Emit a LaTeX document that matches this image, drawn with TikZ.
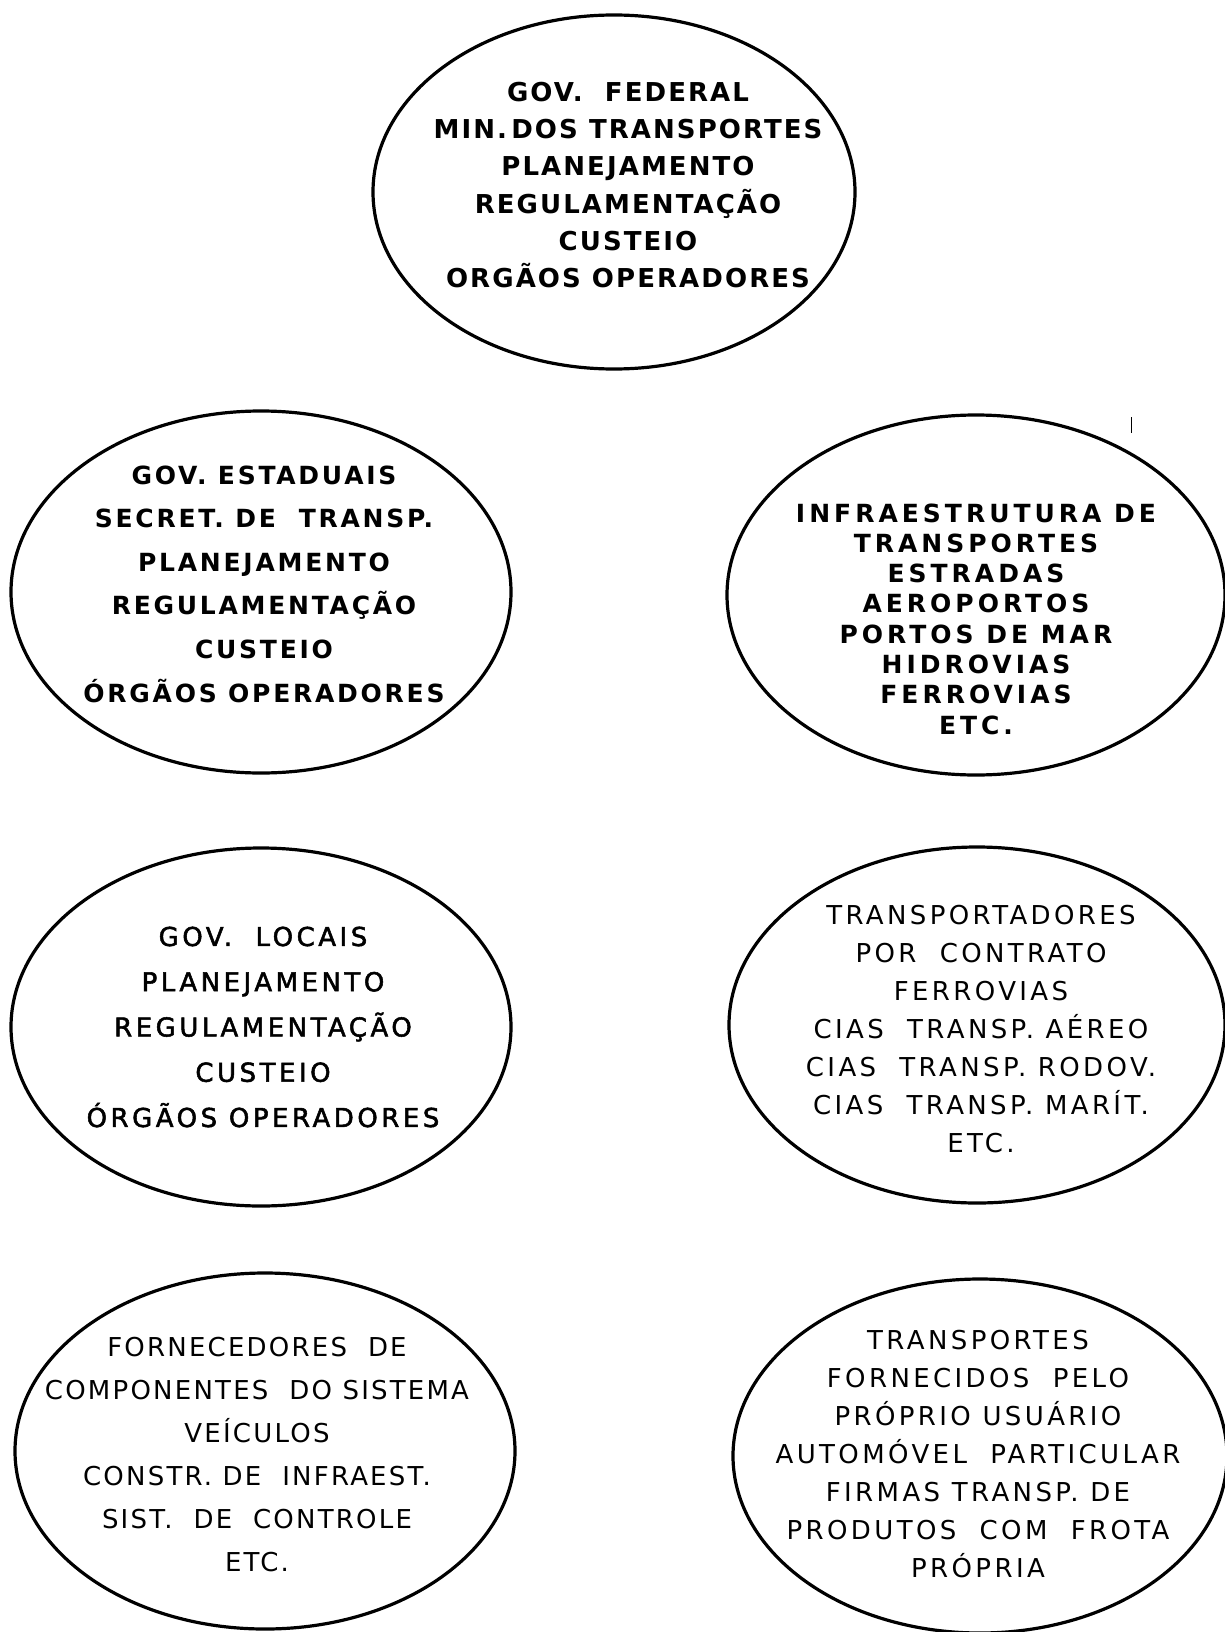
\documentclass[tikz,border=0pt]{standalone}
\usepackage{fontspec}
\usetikzlibrary{shapes.geometric}
\newfontfamily\lett{DejaVu Sans}
\begin{document}
\begin{tikzpicture}[x=1pt,y=-1pt,
  ell/.style={draw, line width=3.2pt, ellipse, inner sep=0pt},
  txt/.style={align=center, inner sep=0pt, text=black}]
\useasboundingbox (0,0) rectangle (1224,1632);
\fill[white] (0,0) rectangle (1224,1632);
% ellipses
\node[ell, minimum width=482pt, minimum height=354pt] (e1) at (614,192) {};
\node[ell, minimum width=500pt, minimum height=362pt] (e2) at (261,592) {};
\node[ell, minimum width=498pt, minimum height=360pt] (e3) at (976,595) {};
\node[ell, minimum width=500pt, minimum height=358pt] (e4) at (261,1027) {};
\node[ell, minimum width=496pt, minimum height=356pt] (e5) at (977,1025) {};
\node[ell, minimum width=500pt, minimum height=356pt] (e6) at (265,1451) {};
\node[ell, minimum width=494pt, minimum height=354pt] (e7) at (980,1456) {};
% stray tick mark
\coordinate (k1) at (1131,417);
\coordinate (k2) at (1131,433);
\draw[line width=1pt] (k1) -- (k2);
% texts
\node[txt, font={\lett\bfseries\fontsize{26}{37.2}\selectfont\addfontfeatures{LetterSpace=8}}] (t1) at (628,185)
 {GOV.\ \ FEDERAL\\MIN.\,DOS TRANSPORTES\\PLANEJAMENTO\\REGULAMENTAÇÃO\\CUSTEIO\\ORGÃOS OPERADORES};
\node[txt, font={\lett\bfseries\fontsize{25}{43.6}\selectfont\addfontfeatures{LetterSpace=11}}] (t2) at (264,584)
 {GOV. ESTADUAIS\\SECRET.\ DE\ \ TRANSP.\\PLANEJAMENTO\\REGULAMENTAÇÃO\\CUSTEIO\\ÓRGÃOS OPERADORES};
\node[txt, font={\lett\bfseries\fontsize{25}{30.3}\selectfont\addfontfeatures{LetterSpace=16}}] (t3) at (976,619)
 {INFRAESTRUTURA DE\\TRANSPORTES\\ESTRADAS\\AEROPORTOS\\PORTOS DE MAR\\HIDROVIAS\\FERROVIAS\\ETC.};
\node[txt, font={\lett\fontsize{26}{45.25}\selectfont\addfontfeatures{LetterSpace=13.5,FakeBold=2}}] (t4) at (263,1027)
 {GOV.\ \ LOCAIS\\PLANEJAMENTO\\REGULAMENTAÇÃO\\CUSTEIO\\ÓRGÃOS OPERADORES};
\node[txt, font={\lett\fontsize{26}{38}\selectfont\addfontfeatures{LetterSpace=13}}] (t5) at (981,1029)
 {TRANSPORTADORES\\POR\ \ CONTRATO\\FERROVIAS\\CIAS\ \ TRANSP.\ AÉREO\\CIAS\ \ TRANSP.\ RODOV.\\CIAS\ \ TRANSP.\ MARÍT.\\ETC.};
\node[txt, font={\lett\fontsize{26}{43}\selectfont\addfontfeatures{LetterSpace=8.5}}] (t6) at (257,1455)
 {FORNECEDORES\ \ DE\\COMPONENTES\ \ DO SISTEMA\\VEÍCULOS\\CONSTR.\ DE\ \ INFRAEST.\\SIST.\ \ DE\ \ CONTROLE\\ETC.};
\node[txt, font={\lett\fontsize{26}{38}\selectfont\addfontfeatures{LetterSpace=13}}] (t7) at (978,1454)
 {TRANSPORTES\\FORNECIDOS\ \ PELO\\PRÓPRIO USUÁRIO\\AUTOMÓVEL\ \ PARTICULAR\\FIRMAS TRANSP.\ DE\\PRODUTOS\ \ COM\ \ FROTA\\PRÓPRIA};
\end{tikzpicture}
\end{document}
